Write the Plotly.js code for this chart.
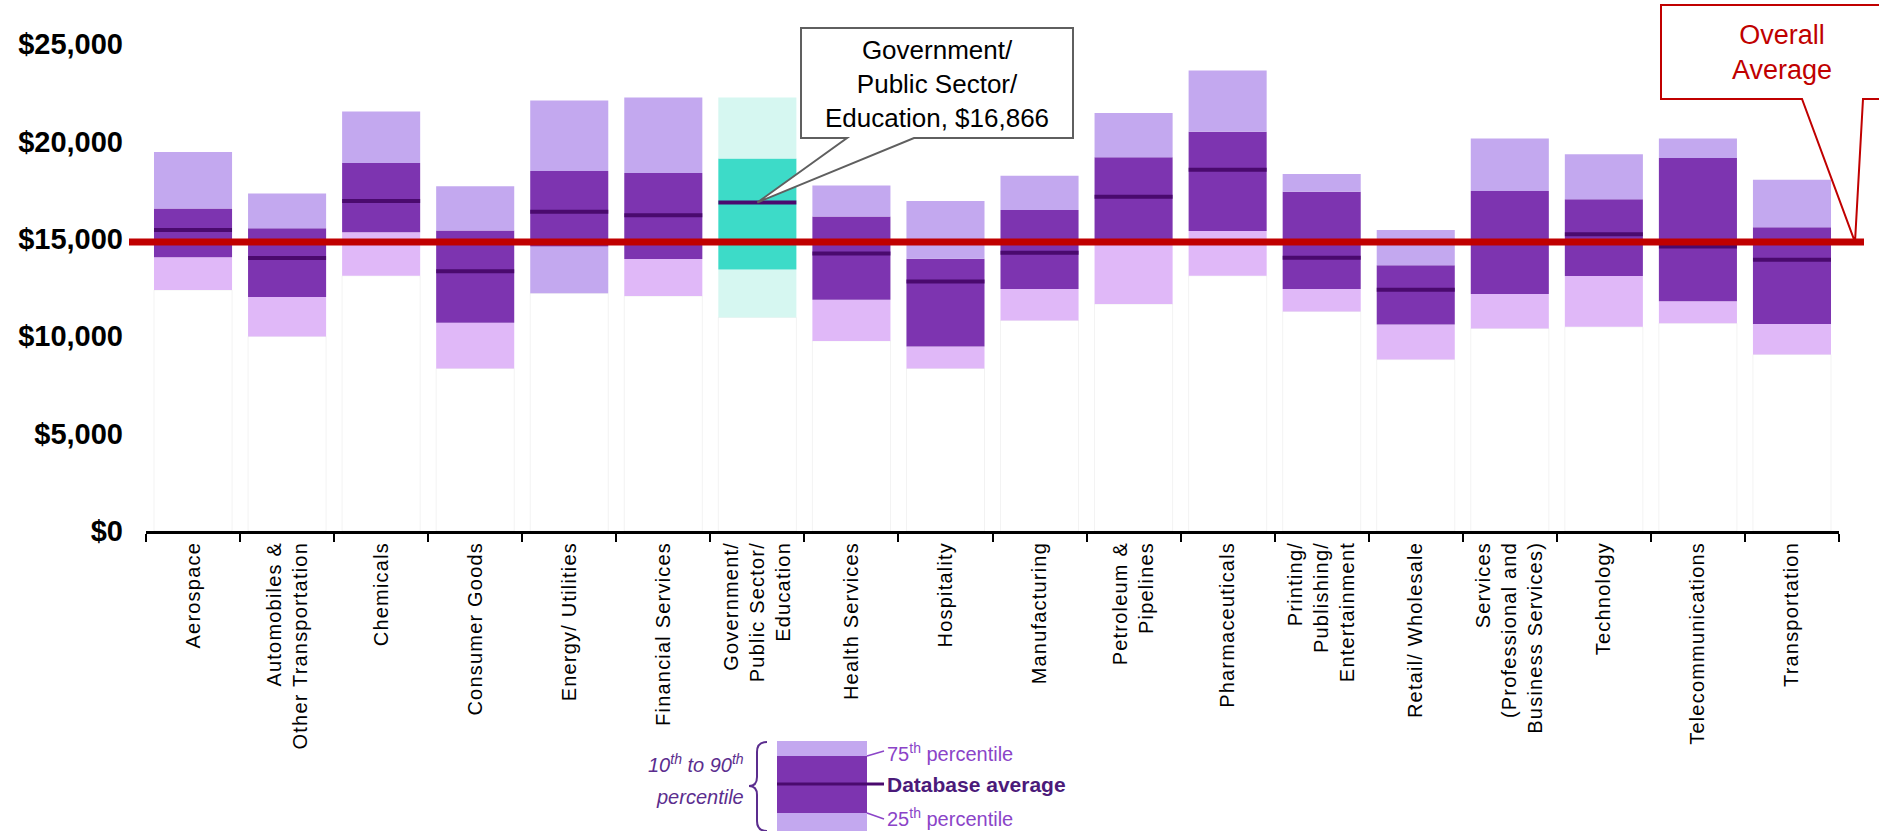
<!DOCTYPE html>
<html>
<head>
<meta charset="utf-8">
<script src="https://cdn.plot.ly/plotly-3.0.1.min.js"></script>
<style>
  html, body { margin: 0; padding: 0; background: #ffffff; }
  #chart { width: 1879px; height: 831px; }
  #chart .xtick text { letter-spacing: 1.2px; }
</style>
</head>
<body>
<div id="chart"></div>
<script>
// Industry names (axis keys) and their display labels
const industries = [
  "Aerospace", "Automobiles & Other Transportation", "Chemicals", "Consumer Goods",
  "Energy/ Utilities", "Financial Services", "Government/ Public Sector/ Education",
  "Health Services", "Hospitality", "Manufacturing", "Petroleum & Pipelines",
  "Pharmaceuticals", "Printing/ Publishing/ Entertainment", "Retail/ Wholesale",
  "Services (Professional and Business Services)", "Technology", "Telecommunications",
  "Transportation"
];
const industryLabels = [
  "Aerospace", "Automobiles &<br>Other Transportation", "Chemicals", "Consumer Goods",
  "Energy/ Utilities", "Financial Services", "Government/<br>Public Sector/<br>Education",
  "Health Services", "Hospitality", "Manufacturing", "Petroleum &<br>Pipelines",
  "Pharmaceuticals", "Printing/<br>Publishing/<br>Entertainment", "Retail/ Wholesale",
  "Services<br>(Professional and<br>Business Services)", "Technology", "Telecommunications",
  "Transportation"
];

// Percentile distribution per industry ($)
const p10  = [12370,  9990, 13100,  8340, 12200, 12060, 10960,  9760,  8340, 10810, 11650, 13100, 11270,  8800, 10400, 10480, 10670,  9060];
const p25  = [14050, 12010, 15330, 10690, 14610, 13960, 13430, 11870,  9470, 12420, 14760, 15400, 12420, 10600, 12160, 13090, 11800, 10620];
const avg  = [15450, 14010, 16940, 13330, 16390, 16210, 16866, 14240, 12810, 14290, 17160, 18540, 14030, 12390, 14850, 15230, 14610, 13930];
const p75  = [16560, 15540, 18890, 15430, 18480, 18380, 19120, 16140, 13980, 16480, 19190, 20490, 17420, 13640, 17460, 17030, 19150, 15590];
const p90  = [19460, 17320, 21530, 17700, 22100, 22250, 22250, 17730, 16940, 18240, 21460, 23640, 18330, 15450, 20150, 19340, 20150, 18030];

const overallAverage = 14830;
const highlighted = "Government/ Public Sector/ Education";

// Y axis ticks
const yTickVals = [0, 5000, 10000, 15000, 20000, 25000];
const yTickText = yTickVals.map(v => "<b>$" + v.toLocaleString("en-US") + "</b>");

// Palette
const C = {
  upper: "#c3a8ef",
  middle: "#7d34b0",
  lower: "#e0b8f8",
  mean: "#4a0a6e",
  hiOuter: "#d6f7f1",
  hiMiddle: "#3ddbc8",
  red: "#c00000",
  keyText: "#8b44c8",
  keyDark: "#4b1a7a"
};

const FONT = "Liberation Sans, Arial, Helvetica, sans-serif";

// Per-bar colours: highlighted industry in teal, Energy lower band in lavender
const lowerColors = industries.map(n => n === highlighted ? C.hiOuter : (n === "Energy/ Utilities" ? C.upper : C.lower));
const middleColors = industries.map(n => n === highlighted ? C.hiMiddle : C.middle);
const upperColors = industries.map(n => n === highlighted ? C.hiOuter : C.upper);

const BAR_W = 0.83;
const diff = (a, b) => a.map((v, i) => v - b[i]);

// line-ew markers are 1.4 x size long; size chosen so the dash spans the bar
const MEAN_MARKER_SIZE = 55.7;

const traces = [
  { // faint column under each band
    type: "bar", x: industries, y: p10, base: 0, width: BAR_W,
    marker: { color: "rgba(255,255,255,0)", line: { color: "rgba(0,0,0,0.05)", width: 1 } },
    hoverinfo: "skip"
  },
  { type: "bar", x: industries, y: diff(p25, p10), base: p10, width: BAR_W,
    marker: { color: lowerColors, line: { width: 0 } }, name: "10th-25th" },
  { type: "bar", x: industries, y: diff(p75, p25), base: p25, width: BAR_W,
    marker: { color: middleColors, line: { width: 0 } }, name: "25th-75th" },
  { type: "bar", x: industries, y: diff(p90, p75), base: p75, width: BAR_W,
    marker: { color: upperColors, line: { width: 0 } }, name: "75th-90th" },
  { type: "scatter", mode: "markers", x: industries, y: avg, cliponaxis: false,
    marker: { symbol: "line-ew", size: MEAN_MARKER_SIZE, color: C.mean, line: { color: C.mean, width: 4 } },
    name: "Database average" }
];

// Plot-area geometry in page pixels
const L = 146, R = 1839, T = 44, B = 531;
const YMAX = 25000;
const px = X => (X - L) / (R - L);
const py = Y => (B - Y) / (B - T);
const pathFrom = pts => pts.map((p, i) => (i ? "L" : "M") + p[0].toFixed(5) + "," + p[1].toFixed(5)).join(" ") + " Z";

// Callout anchors from the data
const hiIdx = industries.indexOf(highlighted);
const hiTip = [(hiIdx + 0.5) / industries.length, avg[hiIdx] / YMAX];
const avgTip = [px(1855), overallAverage / YMAX];

const shapes = [
  { type: "line", xref: "paper", yref: "y", x0: px(129), x1: px(1864), y0: overallAverage, y1: overallAverage,
    line: { color: C.red, width: 7 }, layer: "above" },
  { // highlighted industry callout
    type: "path", xref: "paper", yref: "paper", layer: "above",
    path: pathFrom([[px(801), py(138)], [px(847), py(138)], hiTip, [px(914), py(138)],
                    [px(1073), py(138)], [px(1073), py(28)], [px(801), py(28)]]),
    fillcolor: "#ffffff", line: { color: "#5f5f5f", width: 2 } },
  { // overall average callout
    type: "path", xref: "paper", yref: "paper", layer: "above",
    path: pathFrom([[px(1661), py(99)], [px(1802), py(99)], avgTip, [px(1863), py(99)],
                    [px(1905), py(99)], [px(1905), py(5)], [px(1661), py(5)]]),
    fillcolor: "#ffffff", line: { color: C.red, width: 2 } },

  // key: bands
  { type: "rect", xref: "paper", yref: "paper", x0: px(777), x1: px(867), y0: py(756), y1: py(741),
    fillcolor: C.upper, line: { width: 0 } },
  { type: "rect", xref: "paper", yref: "paper", x0: px(777), x1: px(867), y0: py(813), y1: py(756),
    fillcolor: C.middle, line: { width: 0 } },
  { type: "rect", xref: "paper", yref: "paper", x0: px(777), x1: px(867), y0: py(840), y1: py(813),
    fillcolor: C.upper, line: { width: 0 } },
  { type: "line", xref: "paper", yref: "paper", x0: px(777), x1: px(884), y0: py(784), y1: py(784),
    line: { color: C.mean, width: 3 } },
  { type: "line", xref: "paper", yref: "paper", x0: px(867), x1: px(884), y0: py(756), y1: py(751),
    line: { color: C.keyText, width: 1.5 } },
  { type: "line", xref: "paper", yref: "paper", x0: px(867), x1: px(884), y0: py(813), y1: py(819),
    line: { color: C.keyText, width: 1.5 } },
  { // curly brace
    type: "path", xref: "paper", yref: "paper",
    path: "M" + px(767) + "," + py(742) + " Q" + px(757) + "," + py(742) + " " + px(757) + "," + py(752) +
          " L" + px(757) + "," + py(777) + " Q" + px(757) + "," + py(786) + " " + px(749) + "," + py(786) +
          " Q" + px(757) + "," + py(786) + " " + px(757) + "," + py(795) +
          " L" + px(757) + "," + py(821) + " Q" + px(757) + "," + py(831) + " " + px(767) + "," + py(831),
    line: { color: "#5b2d8e", width: 2 } }
];

const annotations = [
  { xref: "paper", yref: "paper", x: px(937), y: py(84), xanchor: "center", yanchor: "middle",
    showarrow: false, align: "center",
    text: industryLabels[hiIdx].replace(/Education$/, "Education, $" + avg[hiIdx].toLocaleString("en-US")),
    font: { family: FONT, size: 26, color: "#000000" } },
  { xref: "paper", yref: "paper", x: px(1782), y: py(52), xanchor: "center", yanchor: "middle",
    showarrow: false, align: "center", text: "Overall<br>Average",
    font: { family: FONT, size: 27, color: C.red } },
  { xref: "paper", yref: "paper", x: px(885), y: py(752), xanchor: "left", yanchor: "middle",
    showarrow: false, text: "75<sup>th</sup> percentile",
    font: { family: FONT, size: 20, color: C.keyText } },
  { xref: "paper", yref: "paper", x: px(885), y: py(785), xanchor: "left", yanchor: "middle",
    showarrow: false, text: "<b>Database average</b>",
    font: { family: FONT, size: 21, color: C.keyDark } },
  { xref: "paper", yref: "paper", x: px(885), y: py(817), xanchor: "left", yanchor: "middle",
    showarrow: false, text: "25<sup>th</sup> percentile",
    font: { family: FONT, size: 20, color: C.keyText } },
  { xref: "paper", yref: "paper", x: px(746), y: py(763), xanchor: "right", yanchor: "middle",
    showarrow: false, text: "<i>10<sup>th</sup> to 90<sup>th</sup></i>",
    font: { family: FONT, size: 20, color: "#5b2d8e" } },
  { xref: "paper", yref: "paper", x: px(746), y: py(797), xanchor: "right", yanchor: "middle",
    showarrow: false, text: "<i>percentile</i>",
    font: { family: FONT, size: 20, color: "#5b2d8e" } }
];

const layout = {
  width: 1879, height: 831,
  margin: { l: L, r: 1879 - R, t: T, b: 831 - B, pad: 0 },
  paper_bgcolor: "#ffffff", plot_bgcolor: "#ffffff",
  showlegend: false, hovermode: false,
  barmode: "overlay",
  font: { family: FONT, color: "#000000" },
  xaxis: {
    type: "category", categoryorder: "array", categoryarray: industries,
    range: [-0.5, industries.length - 0.5], autorange: false,
    tickvals: industries, ticktext: industryLabels, tickangle: -90,
    tickfont: { family: FONT, size: 20, color: "#000000" },
    ticks: "outside", tickson: "boundaries", ticklen: 8, tickwidth: 2, tickcolor: "#000000",
    showline: true, linecolor: "#000000", linewidth: 3,
    showgrid: false, zeroline: false, automargin: false, fixedrange: true
  },
  yaxis: {
    range: [0, YMAX], autorange: false, tickvals: yTickVals, ticktext: yTickText,
    tickfont: { family: FONT, size: 29, color: "#000000" },
    ticks: "", ticklabelstandoff: 22,
    showline: false, showgrid: false, zeroline: false, automargin: false, fixedrange: true
  },
  shapes: shapes,
  annotations: annotations
};

Plotly.newPlot("chart", traces, layout, { displayModeBar: false, staticPlot: true });
</script>
</body>
</html>
